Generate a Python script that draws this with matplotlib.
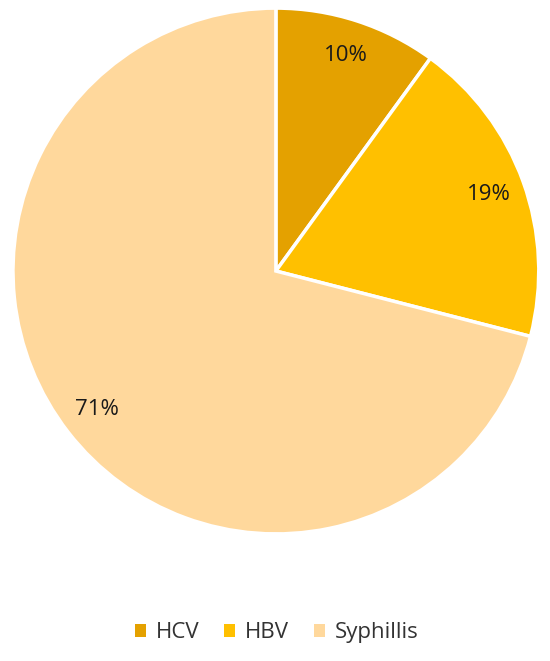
import matplotlib
matplotlib.use("Agg")
import matplotlib.pyplot as plt
from matplotlib.patches import Patch

# Donnees
categories = ["HCV", "HBV", "Syphillis"]
valeurs = [10, 19, 71]
couleurs = ["#E4A100", "#FFC000", "#FFD89C"]

plt.rcParams['font.family'] = ['Open Sans', 'DejaVu Sans']

fig = plt.figure(figsize=(5.5, 6.61), dpi=100)
ax = fig.add_axes([0.0236, 0.192, 0.956, 0.796])

wedges, textes, autotextes = ax.pie(
    valeurs, colors=couleurs, startangle=90, counterclock=False,
    autopct='%1.0f%%', pctdistance=0.86,
    wedgeprops=dict(edgecolor='white', linewidth=2.5),
    textprops=dict(fontsize=16, color='#1a1a1a'))
ax.set_xlim(-1, 1)
ax.set_ylim(-1, 1)
ax.set_aspect('equal')

handles = [Patch(facecolor=c, edgecolor='none') for c in couleurs]
fig.legend(handles, categories, loc='center', bbox_to_anchor=(0.503, 0.043),
           ncol=3, frameon=False, fontsize=16, handlelength=0.5, handleheight=0.5,
           handletextpad=0.45, columnspacing=1.1, labelcolor='#333333')

fig.savefig("out.png", dpi=100)
